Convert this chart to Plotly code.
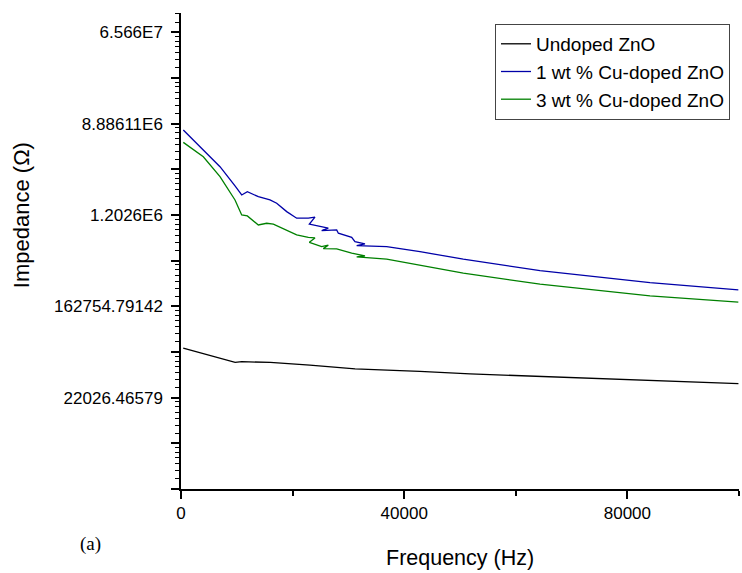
import math
import plotly.graph_objects as go

# Frequency (Hz) and impedance (Ohm)
freq_undoped = [400, 4000, 7000, 9700, 10900, 16000, 23100, 31200, 39250, 42800, 51800, 64300, 84000, 99900]
z_undoped = [65250, 57500, 51500, 47600, 48390, 47600, 44800, 41350, 39740, 39150, 37060, 35100, 32200, 29900]

freq_cu1 = [412, 4000, 6990, 9680, 10880, 11890, 13860, 15950, 17150, 18940, 20730, 22820, 24010, 23000,
            25210, 26400, 25210, 27900, 28200, 30590, 31180, 32970, 31480, 36860, 39840, 42830, 50590,
            64340, 84050, 99880]
z_cu1 = [7.71e6, 4.976e6, 3.457e6, 2.267e6, 1.862e6, 2.001e6, 1.794e6, 1.669e6, 1.553e6, 1.293e6, 1.119e6,
         1.119e6, 1.144e6, 0.9846e6, 0.931e6, 0.899e6, 0.853e6, 0.866e6, 0.806e6, 0.737e6, 0.671e6, 0.638e6,
         0.615e6, 0.6017e6, 0.568e6, 0.539e6, 0.456e6, 0.355e6, 0.2738e6, 0.2333e6]

freq_cu3 = [412, 4000, 6990, 9680, 10880, 11890, 13860, 15350, 16550, 18940, 20730, 22820, 24010, 23000,
            25210, 26400, 25500, 27900, 30590, 32970, 31480, 36860, 42830, 50590, 64340, 84050, 99880]
z_cu3 = [5.89e6, 4.30e6, 2.777e6, 1.669e6, 1.2026e6, 1.176e6, 0.965e6, 1.002e6, 0.985e6, 0.866e6, 0.7775e6,
         0.737e6, 0.727e6, 0.660e6, 0.6017e6, 0.620e6, 0.5756e6, 0.573e6, 0.5207e6, 0.4908e6, 0.480e6,
         0.4567e6, 0.397e6, 0.3364e6, 0.2643e6, 0.2048e6, 0.1781e6]

y_tick_labels = ["", "", "22026.46579", "", "162754.79142", "", "1.2026E6", "", "8.88611E6", "", "6.566E7"]
x_tick_vals = [0, 40000, 80000]

ln_powers = list(range(8, 19))
y_tick_vals = [math.exp(p) for p in ln_powers]
minor_vals = []
for p in range(8, 19):
    a, b = math.exp(p), math.exp(p + 1)
    for k in range(1, 7):
        minor_vals.append(a + k * (b - a) / 7)

FONT = "Liberation Sans, Arial, sans-serif"

fig = go.Figure()
fig.add_trace(go.Scatter(x=freq_undoped, y=z_undoped, mode="lines", name="Undoped ZnO",
                         line=dict(color="#000000", width=1.3)))
fig.add_trace(go.Scatter(x=freq_cu1, y=z_cu1, mode="lines", name="1 wt % Cu-doped ZnO",
                         line=dict(color="#0000A8", width=1.3)))
fig.add_trace(go.Scatter(x=freq_cu3, y=z_cu3, mode="lines", name="3 wt % Cu-doped ZnO",
                         line=dict(color="#008000", width=1.3)))

fig.update_layout(
    width=742, height=573,
    margin=dict(l=181, r=3, t=13, b=84),
    paper_bgcolor="white", plot_bgcolor="white",
    font=dict(family=FONT, size=17, color="black"),
    showlegend=True,
    legend=dict(x=0.5627, y=0.977, xanchor="left", yanchor="top",
                bordercolor="#444", borderwidth=1, bgcolor="white",
                font=dict(family=FONT, size=19, color="black"),
                tracegroupgap=0, itemwidth=30),
    xaxis=dict(range=[0, 100000], tickmode="array", tickvals=x_tick_vals,
               ticktext=[str(v) for v in x_tick_vals],
               showline=True, linecolor="black", linewidth=1.5,
               ticks="outside", ticklen=8, tickwidth=1.5, tickcolor="black",
               minor=dict(dtick=20000, tick0=0, ticks="outside", ticklen=5, tickwidth=1.5, tickcolor="black"),
               showgrid=False, zeroline=False,
               tickfont=dict(family=FONT, size=17)),
    yaxis=dict(type="log", range=[8 / math.log(10), 8.0],
               tickmode="array", tickvals=y_tick_vals, ticktext=y_tick_labels,
               showline=True, linecolor="black", linewidth=1.5,
               ticks="outside", ticklen=8, tickwidth=1.5, tickcolor="black",
               ticklabelstandoff=5,
               minor=dict(tickmode="array", tickvals=minor_vals, ticks="outside", ticklen=4,
                          tickwidth=1.2, tickcolor="black"),
               showgrid=False, zeroline=False,
               tickfont=dict(family=FONT, size=17)),
)

fig.add_annotation(text="Frequency (Hz)", xref="paper", yref="paper", x=0.5, y=-0.145,
                   xanchor="center", yanchor="middle", showarrow=False,
                   font=dict(family=FONT, size=21.5))
fig.add_annotation(text="Impedance (\u03a9)", xref="paper", yref="paper", x=-0.287, y=0.575,
                   xanchor="center", yanchor="middle", showarrow=False, textangle=-90,
                   font=dict(family=FONT, size=22))
fig.add_annotation(text="(a)", xref="paper", yref="paper", x=-0.163, y=-0.115,
                   xanchor="center", yanchor="middle", showarrow=False,
                   font=dict(family="Liberation Serif, Times New Roman, serif", size=19))

fig.write_html("out.html", config={"displayModeBar": False},
               post_script="document.body.style.margin='0';document.body.style.overflow='hidden';")
